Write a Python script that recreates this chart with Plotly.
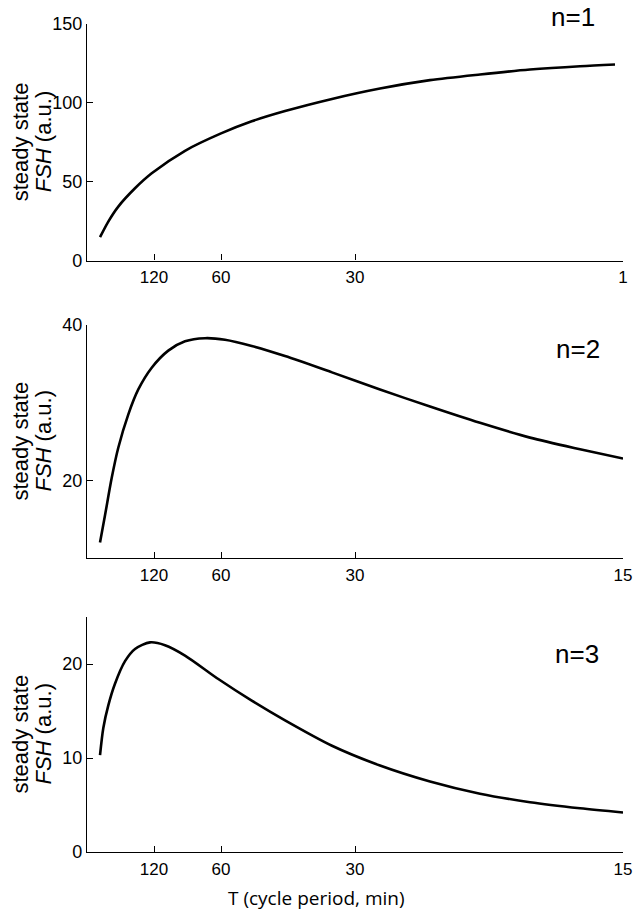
import plotly.graph_objects as go

# x values are pulse frequency (1/min); the axis is labelled with the period T
tick_freq = [1/120, 1/60, 1/30, 1/15]
tick_T_labels_top = ["120", "60", "30", "1"]
tick_T_labels = ["120", "60", "30", "15"]

freq1 = [0.00162, 0.00265, 0.00389, 0.00597, 0.00805, 0.01219, 0.01667, 0.02049, 0.02463,
         0.03047, 0.03644, 0.04266, 0.04888, 0.05510, 0.06132, 0.06567]
fsh1 = [14.8, 24.7, 34.2, 45.8, 55.3, 69.6, 80.6, 88.3, 94.8,
        102.5, 109.1, 114.4, 118.0, 121.1, 123.2, 124.3]

freq2 = [0.00162, 0.00224, 0.00307, 0.00389, 0.00514, 0.00638, 0.00805, 0.01011, 0.01219,
         0.01468, 0.01716, 0.02049, 0.02463, 0.03047, 0.03644, 0.04266, 0.04888, 0.05510,
         0.06132, 0.06667]
fsh2 = [12.0, 15.5, 20.3, 24.2, 28.5, 31.7, 34.5, 36.7, 37.9,
        38.3, 38.1, 37.3, 36.0, 33.9, 31.7, 29.5, 27.4, 25.5,
        24.0, 22.8]

freq3 = [0.00162, 0.00203, 0.00265, 0.00348, 0.00473, 0.00597, 0.00784, 0.00970, 0.01219,
         0.01633, 0.02049, 0.02463, 0.03047, 0.03644, 0.04266, 0.04888, 0.05510, 0.06132,
         0.06667]
fsh3 = [10.3, 13.2, 15.6, 17.9, 20.3, 21.6, 22.3, 22.0, 20.9,
        18.4, 16.1, 14.0, 11.3, 9.2, 7.5, 6.2, 5.3, 4.65,
        4.2]

y_ticks = [[0, 50, 100, 150], [20, 40], [0, 10, 20]]
y_ranges = [[0, 150], [10, 40], [0, 25]]
panel_labels = ["n=1", "n=2", "n=3"]
y_title_line1 = "steady state"
y_title_line2 = "<i>FSH</i> (a.u.)"
x_title = "T (cycle period, min)"

FONT = "Liberation Sans"

W, H = 633, 914
ML, MR, MT, MB = 87, 10, 24, 62
PW = W - ML - MR
PH = H - MT - MB

def px(sx):  # window x -> paper x
    return (sx - ML) / PW

def py(sy):  # window y -> paper y
    return (H - MB - sy) / PH

domains = [[py(260.5), 1.0], [py(558), py(325)], [0.0, py(617)]]
series = [(freq1, fsh1), (freq2, fsh2), (freq3, fsh3)]
label_pos = [(573, 11), (578, 349), (577, 654)]

fig = go.Figure()
for i, (fx, fy) in enumerate(series):
    k = "" if i == 0 else str(i + 1)
    fig.add_trace(go.Scatter(x=fx, y=fy, mode="lines",
                             line=dict(color="black", width=2.6, shape="spline", smoothing=0.8),
                             xaxis="x" + k, yaxis="y" + k, showlegend=False, hoverinfo="skip"))
    ax = dict(domain=[0, 1], range=[0, 1/15], tickvals=tick_freq,
              ticktext=tick_T_labels_top if i == 0 else tick_T_labels,
              showline=True, linecolor="black", linewidth=1.3, ticks="inside", ticklen=6,
              tickwidth=1.2, tickcolor="black", ticklabelstandoff=1, automargin=False,
              showgrid=False, zeroline=False, anchor="y" + k,
              tickfont=dict(family=FONT, size=17, color="black"))
    ay = dict(domain=domains[i], range=y_ranges[i], tickvals=y_ticks[i],
              showline=True, linecolor="black", linewidth=1.3, ticks="inside", ticklen=6,
              tickwidth=1.2, tickcolor="black", automargin=False,
              showgrid=False, zeroline=False, anchor="x" + k,
              tickfont=dict(family=FONT, size=18, color="black"))
    fig.update_layout(**{"xaxis" + k: ax, "yaxis" + k: ay})
    ymid = (domains[i][0] + domains[i][1]) / 2
    fig.add_annotation(text=y_title_line1, xref="paper", yref="paper", x=px(20), y=ymid,
                       textangle=-90, showarrow=False, xanchor="center", yanchor="middle",
                       font=dict(family=FONT, size=22, color="black"))
    fig.add_annotation(text=y_title_line2, xref="paper", yref="paper", x=px(43), y=ymid,
                       textangle=-90, showarrow=False, xanchor="center", yanchor="middle",
                       font=dict(family=FONT, size=22, color="black"))
    lx, ly = label_pos[i]
    if i == 0:
        fig.add_annotation(text=panel_labels[i], xref="paper", yref="paper", x=px(lx), y=py(0),
                           showarrow=False, xanchor="center", yanchor="top",
                           font=dict(family=FONT, size=26, color="black"))
    else:
        fig.add_annotation(text=panel_labels[i], xref="paper", yref="paper", x=px(lx), y=py(ly),
                           showarrow=False, xanchor="center", yanchor="middle",
                           font=dict(family=FONT, size=26, color="black"))

fig.add_annotation(text=x_title, xref="paper", yref="paper", x=px(316), y=py(898),
                   showarrow=False, xanchor="center", yanchor="middle",
                   font=dict(family="Open Sans", size=19, color="black"))

fig.update_layout(width=W, height=H, margin=dict(l=ML, r=MR, t=MT, b=MB, autoexpand=False),
                  paper_bgcolor="white", plot_bgcolor="white")
fig.write_html("out.html", config={"displayModeBar": False},
               post_script="document.body.style.margin='0';document.body.style.overflow='hidden';")
